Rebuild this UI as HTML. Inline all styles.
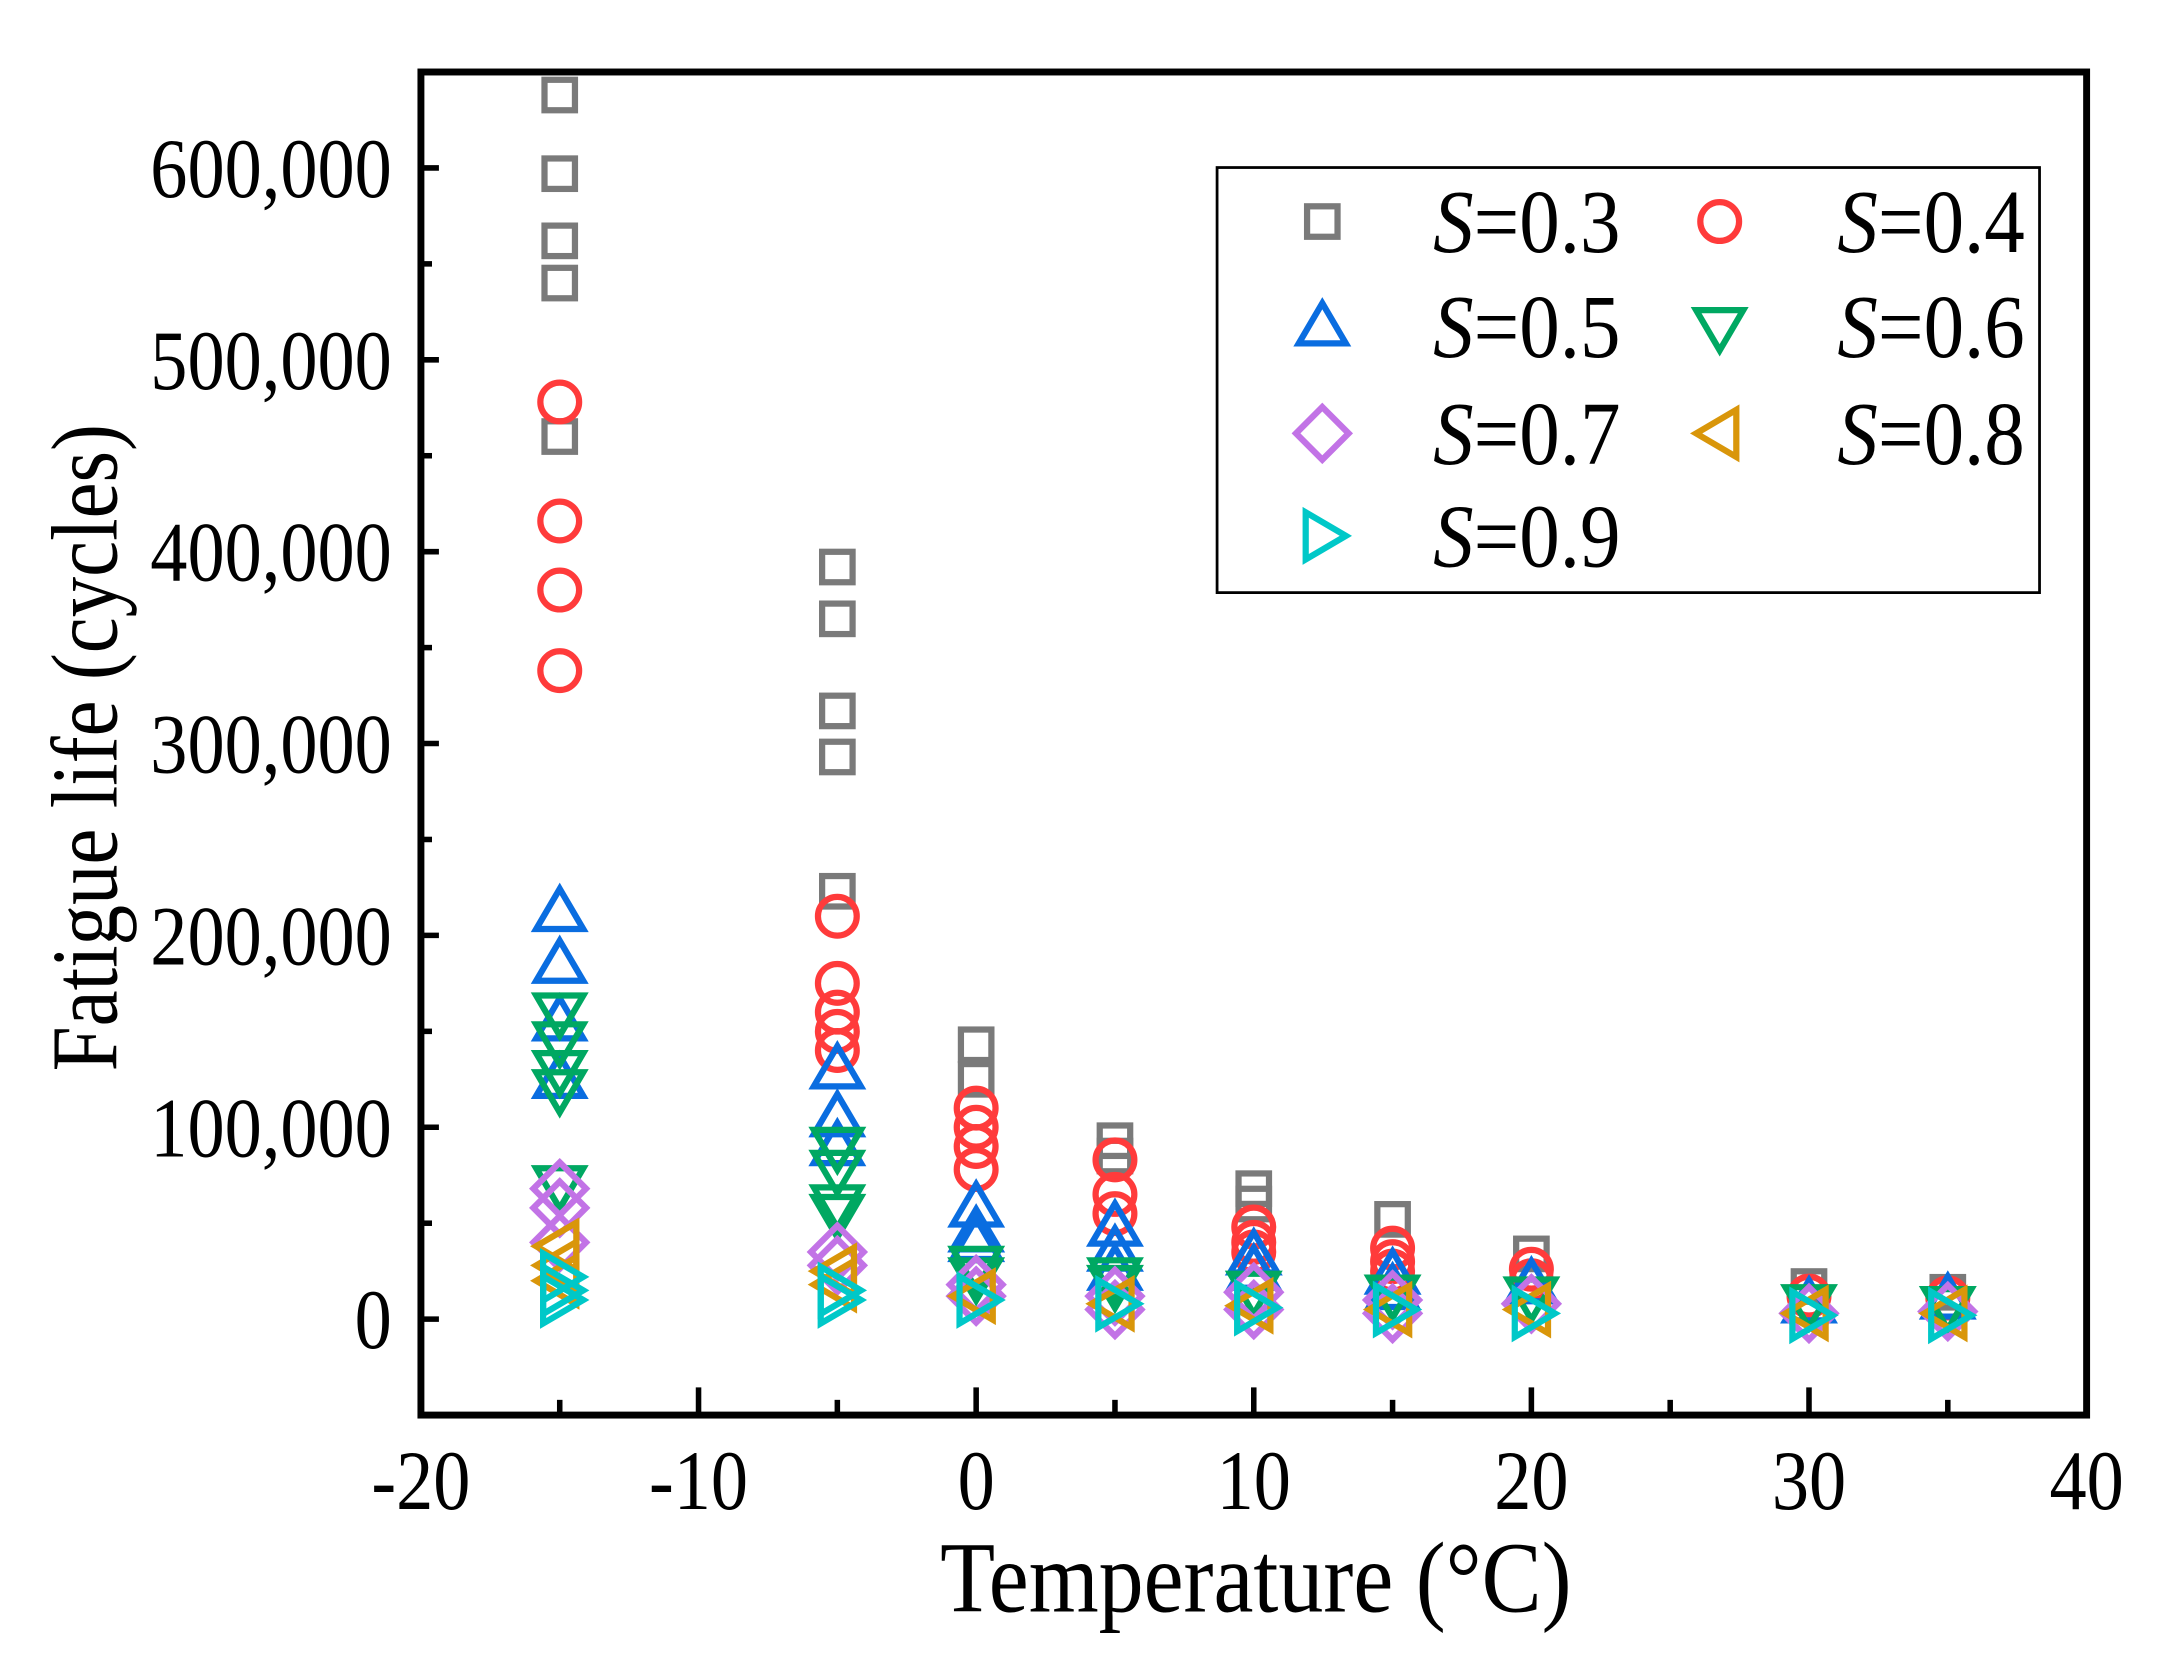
<!DOCTYPE html>
<html><head><meta charset="utf-8"><style>
html,body{margin:0;padding:0;background:#fff;}
svg{display:block;}
text{font-family:"Liberation Serif",serif;fill:#000;}
</style></head><body>
<svg id="chart" width="2160" height="1665" viewBox="0 0 1560 1202.5" preserveAspectRatio="none" xmlns="http://www.w3.org/2000/svg">
<g id="marks"></g>
<g id="axes"></g>
<g id="legend"></g>
</svg>
<script>
const temps = [-15,-5,0,5,10,15,20,30,35];
const s03 = [[-15,638000],[-15,597000],[-15,562000],[-15,540000],[-15,460000],[-5,392000],[-5,365000],[-5,317000],[-5,293000],[-5,223000],[0,143000],[0,125000],[5,93000],[5,85000],[10,68000],[10,60000],[15,52000],[20,34000],[30,17000],[35,14000]];
const s04 = [[-15,478000],[-15,416000],[-15,380000],[-15,338000],[-5,210000],[-5,175000],[-5,160000],[-5,150000],[-5,140000],[0,110000],[0,100000],[0,90000],[0,78000],[5,83000],[5,65000],[5,55000],[10,48000],[10,40000],[10,35000],[15,37000],[15,30000],[15,25000],[20,26000],[20,20000],[30,12000],[35,11000]];
const s05 = [[-15,212000],[-15,185000],[-15,155000],[-15,125000],[-5,130000],[-5,105000],[-5,90000],[0,58000],[0,45000],[0,40000],[5,48000],[5,35000],[5,25000],[10,33000],[10,25000],[15,23000],[15,15000],[20,18000],[30,8000],[35,10000]];
const s06 = [[-15,160000],[-15,145000],[-15,130000],[-15,120000],[-15,70000],[-5,90000],[-5,78000],[-5,60000],[-5,55000],[0,28000],[0,22000],[5,22000],[5,18000],[10,15000],[15,13000],[20,12000],[30,8000],[35,7000]];
const s07 = [[-15,68000],[-15,58000],[-15,40000],[-5,35000],[-5,28000],[0,18000],[0,12000],[5,12000],[5,5000],[10,14000],[10,5000],[15,10000],[15,3000],[20,8000],[30,3000],[35,4000]];
const s08 = [[-15,38000],[-15,28000],[-15,20000],[-5,25000],[-5,18000],[0,12000],[5,8000],[10,7000],[15,5000],[20,5000],[30,3000],[35,3000]];
const s09 = [[-15,22000],[-15,15000],[-15,10000],[-5,15000],[-5,10000],[0,10000],[5,8000],[10,6000],[15,5000],[20,3000],[30,2000],[35,2000]];
const xTicks = [-20,-10,0,10,20,30,40];
const yTicks = [0,100000,200000,300000,400000,500000,600000];
const yTickLabels = ["0","100,000","200,000","300,000","400,000","500,000","600,000"];
const seriesLabels = ["0.3","0.4","0.5","0.6","0.7","0.8","0.9"];

const NS="http://www.w3.org/2000/svg";
const L=304,R=1507,T=52,B=1022;
const xMin=-20,xMax=40,yMin=-50000,yMax=650000;
const xs=v=>L+(v-xMin)/(xMax-xMin)*(R-L);
const ys=v=>B-(v-yMin)/(yMax-yMin)*(B-T);
function mk(tag,attrs,parent){const e=document.createElementNS(NS,tag);for(const k in attrs)e.setAttribute(k,attrs[k]);parent.appendChild(e);return e;}
function txt(x,y,size,anchor,sx,parent,rot){
  const tr="translate("+x+","+y+")"+(rot?" rotate("+rot+")":"")+" scale("+sx+",1)";
  return mk("text",{x:0,y:0,"font-size":size,"text-anchor":anchor,transform:tr},parent);
}

const colors=["#7a7a7a","#ff3b3b","#0a6de0","#00a862","#c273e6","#d9960a","#00c8c8"];
const shapes=["square","circle","up","down","diamond","left","right"];
function marker(shape,cx,cy,col,parent){
  const st={fill:"none",stroke:col,"stroke-width":4.5};
  let e;
  if(shape==="square") e=mk("rect",Object.assign({x:cx-11,y:cy-11,width:22,height:22},st),parent);
  else if(shape==="circle") e=mk("circle",Object.assign({cx:cx,cy:cy,r:14},st),parent);
  else {
    let p;
    if(shape==="up") p=[[cx,cy-17],[cx+17,cy+12],[cx-17,cy+12]];
    else if(shape==="down") p=[[cx,cy+17],[cx+17,cy-12],[cx-17,cy-12]];
    else if(shape==="diamond") p=[[cx,cy-19],[cx+19,cy],[cx,cy+19],[cx-19,cy]];
    else if(shape==="left") p=[[cx-17,cy],[cx+12,cy-17],[cx+12,cy+17]];
    else p=[[cx+17,cy],[cx-12,cy-17],[cx-12,cy+17]];
    e=mk("polygon",Object.assign({points:p.map(a=>a.join(",")).join(" ")},st),parent);
  }
  return e;
}
const all=[s03,s04,s05,s06,s07,s08,s09];
const marks=document.getElementById("marks");
all.forEach((ser,i)=>{
  const g=mk("g",{},marks);
  
  
  ser.forEach(d=>{
    const m=marker(shapes[i],xs(d[0]),ys(d[1]),colors[i],g);
    
    
  });
});

const ax=document.getElementById("axes");
const frame=mk("rect",{x:L,y:T,width:R-L,height:B-T,fill:"none",stroke:"#000","stroke-width":5},ax);


xTicks.forEach(v=>{
  const x=xs(v);
  const t=mk("line",{x1:x,x2:x,y1:B,y2:B-20,stroke:"#000","stroke-width":4},ax);
  
  
  const lb=txt(x,1090,61,"middle",0.88,ax);
  lb.textContent=String(v);
  
  
});
for(let v=xMin+5;v<xMax;v+=10){
  const x=xs(v);
  const t=mk("line",{x1:x,x2:x,y1:B,y2:B-11,stroke:"#000","stroke-width":4},ax);
  
  
}
yTicks.forEach((v,i)=>{
  const y=ys(v);
  const t=mk("line",{x1:L,x2:L+13,y1:y,y2:y,stroke:"#000","stroke-width":4},ax);
  
  
  const lb=txt(283,y+21,61,"end",0.88,ax);
  lb.textContent=yTickLabels[i];
  
  
});
for(let v=-50000;v<=650000;v+=100000){
  const y=ys(v);
  const t=mk("line",{x1:L,x2:L+8,y1:y,y2:y,stroke:"#000","stroke-width":4},ax);
  
  
}
const xt=txt(907,1164,73,"middle",0.89,ax);
xt.textContent="Temperature (°C)";


const yt=txt(84,540,68,"middle",0.86,ax,-90);
yt.textContent="Fatigue life (cycles)";



const lg=document.getElementById("legend");
const box=mk("rect",{x:879,y:121,width:594,height:307,fill:"#fff",stroke:"#000","stroke-width":2},lg);


const rowsY=[160,236,313,387];
seriesLabels.forEach((lab,i)=>{
  const col=i%2,row=Math.floor(i/2);
  const mx=col?1242:955, tx=col?1327:1035, y=rowsY[row];
  const g=mk("g",{},lg);
  
  
  marker(shapes[i],mx,y,colors[i],g);
  const t=txt(tx,y+22,65,"start",0.9,g);
  const ts=mk("tspan",{"font-style":"italic"},t);ts.textContent="S";
  const t2=mk("tspan",{},t);t2.textContent="=0"+lab.slice(1);
});
</script>
</body></html>
